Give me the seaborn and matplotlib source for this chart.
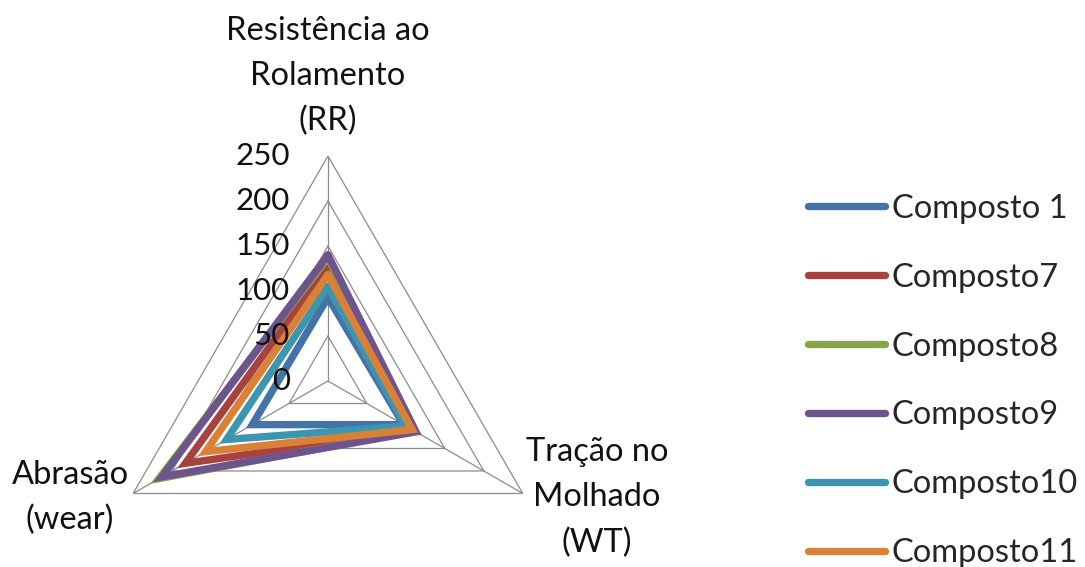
import numpy as np
import pandas as pd
import matplotlib
matplotlib.use('Agg')
import matplotlib.pyplot as plt
import seaborn as sns

# Data
axes_labels = ['Resistência ao\nRolamento\n(RR)', 'Tração no\nMolhado\n(WT)', 'Abrasão\n(wear)']
series_names = ['Composto 1', 'Composto7', 'Composto8', 'Composto9', 'Composto10', 'Composto11']
rr = [93, 128, 137, 140, 105, 118]
wt = [97, 110, 111, 113, 100, 108]
wear = [97, 183, 217, 213, 130, 157]
levels = [0, 50, 100, 150, 200, 250]
colors = ['#4573A8', '#A8423F', '#86A44A', '#6E548D', '#3C96B0', '#DA8137']

sns.set_style('white')
plt.rcParams['font.family'] = ['Lato', 'DejaVu Sans']

angles = [0, 2 * np.pi / 3, 4 * np.pi / 3]
angles_closed = angles + [2 * np.pi]

rows = []
for i, name in enumerate(series_names):
    vals = [rr[i], wt[i], wear[i], rr[i]]
    for a, v in zip(angles_closed, vals):
        rows.append({'theta': a, 'value': v, 'serie': name})
df = pd.DataFrame(rows)

fig = plt.figure(figsize=(10.85, 5.67), dpi=100)
ax = fig.add_axes([0.0949, -0.0688, 0.4147, 0.7937], projection='polar')
ax.set_theta_offset(np.pi / 2)
ax.set_theta_direction(-1)
ax.set_ylim(0, 250)
ax.grid(False)
ax.set_xticks([])
ax.set_yticks([])
ax.spines['polar'].set_visible(False)
ax.patch.set_alpha(0)

# triangular gridlines and spokes
grid_c = '#8c8c8c'
for lv in levels[1:]:
    ax.plot(angles_closed, [lv] * 4, color=grid_c, lw=0.9, zorder=1)
for a in angles:
    ax.plot([a, a], [0, 250], color=grid_c, lw=0.9, zorder=1)

sns.lineplot(data=df, x='theta', y='value', hue='serie', hue_order=series_names,
             palette=colors, sort=False, estimator=None, linewidth=5.3,
             solid_joinstyle='miter', ax=ax, zorder=2)
ax.set_xlabel('')
ax.set_ylabel('')

# radial labels
for lv in levels:
    ax.annotate(str(lv), xy=(0, lv), xytext=(-38, 0), textcoords='offset pixels',
                ha='right', va='center', fontsize=22.5, color='#111111', zorder=5)

# category labels
offsets = [(0, 80), (74, -4), (-63, -4)]
for a, lab, off in zip(angles, axes_labels, offsets):
    ax.annotate(lab, xy=(a, 250), xytext=off, textcoords='offset pixels',
                ha='center', va='center', multialignment='center',
                fontsize=23.5, linespacing=1.62, color='#111111')

leg = ax.get_legend()
handles = leg.legend_handles
labels = [t.get_text() for t in leg.get_texts()]
leg.remove()
new_leg = fig.legend(handles, labels, loc='upper left', bbox_to_anchor=(0.7447, 0.658),
                     frameon=False, fontsize=23.5, handlelength=2.36, handletextpad=0.2,
                     labelspacing=1.19, borderpad=0, borderaxespad=0)
for h in new_leg.legend_handles:
    h.set_linewidth(5.3)

fig.savefig('out.png', dpi=100)
